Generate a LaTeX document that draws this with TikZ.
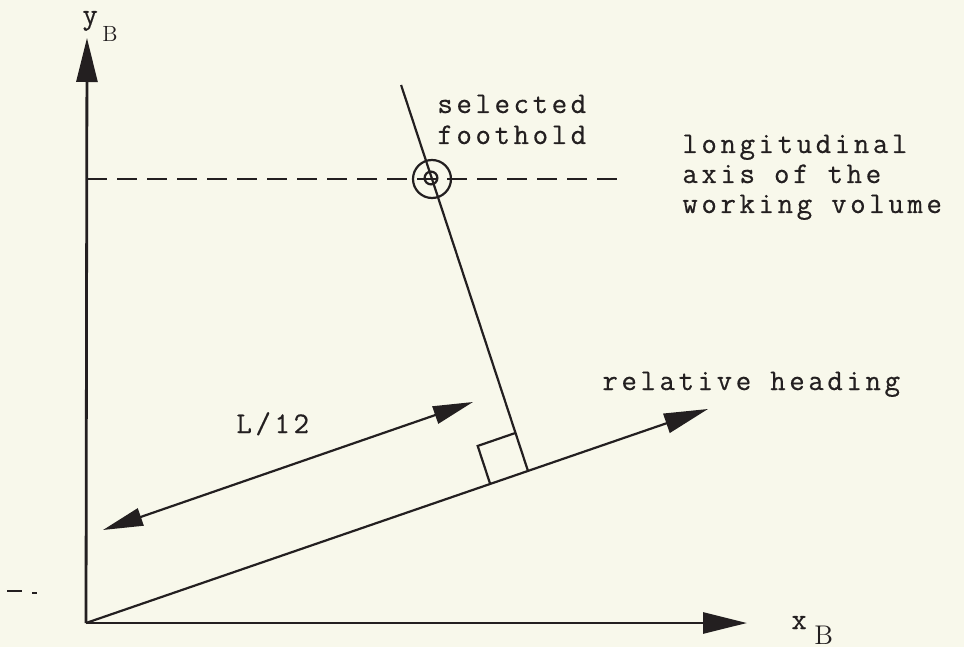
\documentclass[tikz,border=0pt]{standalone}
\usepackage{fontspec}
\newfontfamily\typew[LetterSpace=12,FakeBold=0.5]{Latin Modern Mono}
\usetikzlibrary{arrows.meta,calc}
\definecolor{paper}{HTML}{F8F8EB}
\definecolor{ink}{HTML}{231F20}
\begin{document}
\begin{tikzpicture}[x=0.5pt,y=-0.5pt,
  axisline/.style={draw=ink, line width=1.4pt, -{Triangle[length=22pt,width=10.5pt]}},
  thinline/.style={draw=ink, line width=1.1pt},
  headtip/.style={-{Triangle[length=22pt,width=10pt]}},
  dimtips/.style={{Triangle[length=20pt,width=9pt]}-{Triangle[length=20pt,width=9pt]}},
  lbl/.style={font=\typew\fontsize{15}{18}\selectfont, text=ink, inner sep=0pt, anchor=base west},
  subB/.style={text=ink, inner sep=0pt, anchor=base west}]
\fill[paper] (0,0) rectangle (964,647);
\useasboundingbox (0,0) rectangle (964,647);
% key points
\coordinate (O) at (86,623);
\coordinate (X) at (747,623);
\coordinate (Y) at (87,38);
\coordinate (H) at (708,409);
\coordinate (F) at ($(O)!0.7106!(H)$);
\coordinate (C) at (432,179);
\coordinate (T) at ($(F)!1.322!(C)$);
\coordinate (DL) at (87,179);
\coordinate (DR) at (620,179);
\coordinate (LA) at (103,530);
\coordinate (LB) at (473,402);
% axes
\draw[axisline] (O) -- (X);
\draw[axisline] (O) -- (Y);
% dashed longitudinal axis
\draw[thinline, dash pattern=on 10pt off 5pt] (DL) -- (DR);
% relative heading
\draw[thinline, headtip] (O) -- (H);
% perpendicular through foothold
\draw[thinline] (F) -- (T);
% right-angle mark
\coordinate (SA) at ($(F)!20pt!(O)$);
\coordinate (SB) at ($(F)!20pt!(T)$);
\draw[thinline] (SA) -- ($(SA)+(SB)-(F)$) -- (SB);
% foothold symbol
\node[circle, draw=ink, line width=1.1pt, minimum size=19pt, inner sep=0pt] (fh) at (C) {};
\draw[thinline] ($(C)+(-1,-1)$) circle (3.2pt);
% L/12 dimension
\draw[thinline, dimtips] (LA) -- (LB);
% labels
\node[lbl] (ylab) at (82,24) {y};
\node[subB, font=\rmfamily\fontsize{11}{12}\selectfont] (ysub) at (102,42) {B};
\node[lbl] (xlab) at (791,629) {x};
\node[subB, font=\rmfamily\fontsize{13.5}{15}\selectfont] (xsub) at (814,644) {B};
\node[lbl] (sel1) at (437,113) {selected};
\node[lbl] (sel2) at (437,144) {foothold};
\node[lbl] (lon1) at (682,153) {longitudinal};
\node[lbl] (lon2) at (682,183) {axis of the};
\node[lbl] (lon3) at (682,213) {working volume};
\node[lbl] (rel) at (602,390) {relative heading};
\node[lbl] (dim) at (236,433) {L/12};
% scan marks at left
\draw[ink, line width=0.8pt] (7,591) -- (22,591);
\draw[ink, line width=0.8pt] (32,593) -- (37,593);
\end{tikzpicture}
\end{document}
